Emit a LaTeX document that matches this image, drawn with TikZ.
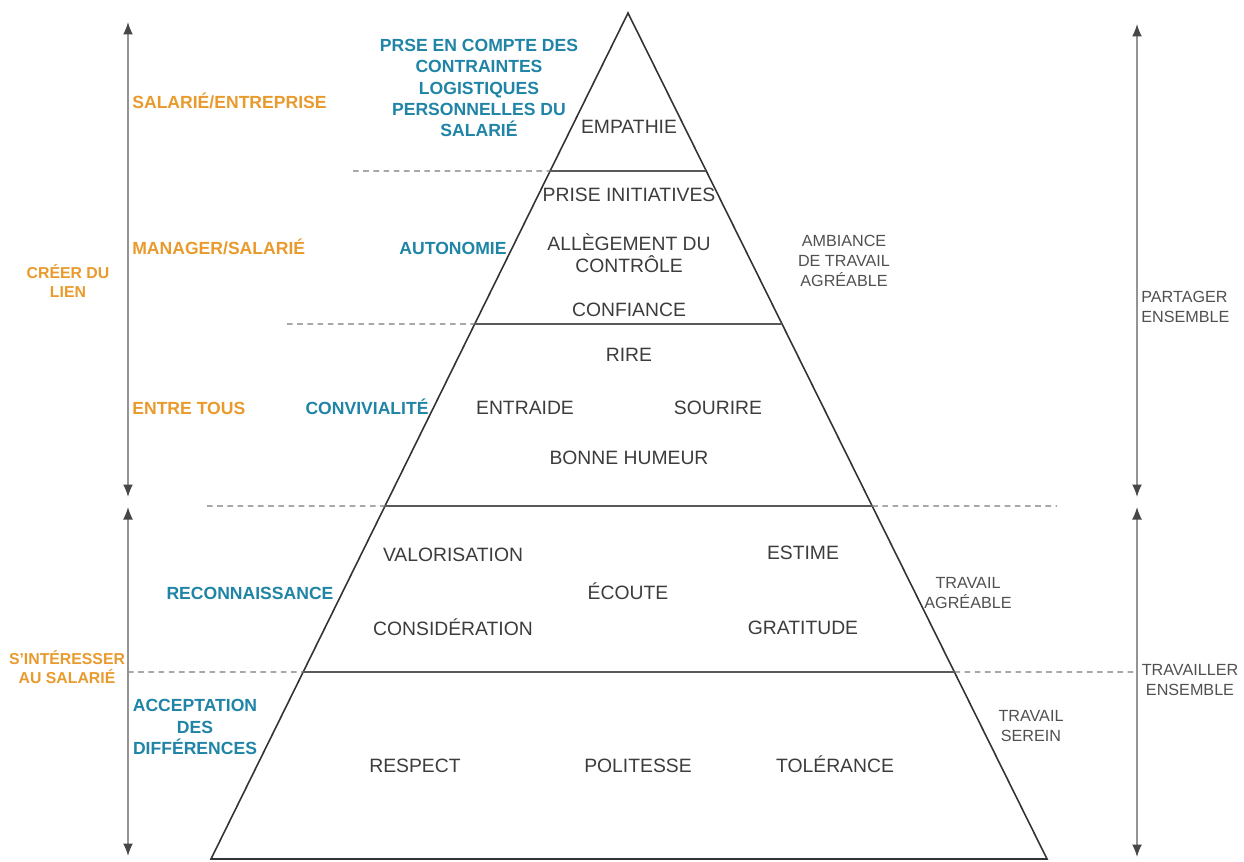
\documentclass[tikz,border=0pt]{standalone}
\usepackage{fontspec}
\setmainfont{Liberation Sans}
\usetikzlibrary{%
        arrows.meta,%
        calc%
    }
\definecolor{lienorange}{HTML}{E99A2C}
\definecolor{axeblue}{HTML}{1F84A6}
\definecolor{textgray}{HTML}{3C3C3C}
\definecolor{sidegray}{HTML}{505050}
\definecolor{linegray}{HTML}{7A7A7A}

\begin{document}
\begin{tikzpicture}[
        x=0.02cm, y=-0.02cm,
        pyramid/.style={draw=black!80, line width=0.9pt},
        tier/.style={draw=black!65, line width=0.9pt},
        guide/.style={draw=linegray, line width=0.7pt, dash pattern=on 3.2pt off 2.6pt},
        axis/.style={draw=black!42, line width=0.9pt,
            {Latex[length=2.5mm,width=2mm,color=black!72]}-{Latex[length=2.5mm,width=2mm,color=black!72]}},
        lien/.style={font={\fontsize{10}{12}\selectfont\bfseries}, text=lienorange, inner sep=0pt},
        liensmall/.style={font={\fontsize{9}{10.8}\selectfont\bfseries}, text=lienorange, align=center, inner sep=0pt},
        axe/.style={font={\fontsize{10}{12}\selectfont\bfseries}, text=axeblue, align=center, inner sep=0pt},
        values/.style={font={\fontsize{11}{12.6}\selectfont}, text=textgray, align=center, inner sep=0pt},
        value/.style={values, text height=0.72em, text depth=0pt},
        side/.style={font={\fontsize{9.2}{11.4}\selectfont}, text=sidegray, align=center, inner sep=0pt}
        ]

        % Frame
        \useasboundingbox (0,0) rectangle (1244,862);

        % Pyramid
        \coordinate (apex) at (628,13);
        \coordinate (baseL) at (211,859);
        \coordinate (baseR) at (1047,859);
        \draw[pyramid] (apex) -- (baseL) -- (baseR) -- cycle;

        % Tiers
        \foreach \t/\n in {0.1868/a, 0.3676/b, 0.5827/c, 0.7790/d}{
            \coordinate (\n L) at ($(apex)!\t!(baseL)$);
            \coordinate (\n R) at ($(apex)!\t!(baseR)$);
            \draw[tier] (\n L) -- (\n R);
        }

        % Dashed guides
        \coordinate (gA) at (353,171);
        \coordinate (gB) at (287,324);
        \coordinate (gC) at (207,506);
        \coordinate (gCr) at (1057,506);
        \coordinate (gD) at (128,672);
        \coordinate (gDr) at (1134,672);
        \draw[guide] (gA) -- (aL);
        \draw[guide] (gB) -- (bL);
        \draw[guide] (gC) -- (cL);
        \draw[guide] (cR) -- (gCr);
        \draw[guide] (gD) -- (dL);
        \draw[guide] (dR) -- (gDr);

        % Side arrows
        \coordinate (la1) at (128,22);
        \coordinate (la2) at (128,497);
        \coordinate (la3) at (128,507);
        \coordinate (la4) at (128,856);
        \coordinate (ra1) at (1137,24);
        \coordinate (ra2) at (1137,497);
        \coordinate (ra3) at (1137,507);
        \coordinate (ra4) at (1137,857);
        \draw[axis] (la1) -- (la2);
        \draw[axis] (la3) -- (la4);
        \draw[axis] (ra1) -- (ra2);
        \draw[axis] (ra3) -- (ra4);

        % Left labels
        \node[lien, anchor=west] (salent) at (132,101) {SALARIÉ/ENTREPRISE};
        \node[lien, anchor=west] (mansal) at (132,247) {MANAGER/SALARIÉ};
        \node[lien, anchor=west] (tous) at (132,408) {ENTRE TOUS};
        \node[liensmall] (creer) at (68,281) {CRÉER DU\\LIEN};
        \node[liensmall] (interet) at (67,667) {S'INTÉRESSER\\AU SALARIÉ};

        % Axes
        \node[axe] (contraintes) at (479,88) {PRSE EN COMPTE DES\\CONTRAINTES\\LOGISTIQUES\\PERSONNELLES DU\\SALARIÉ};
        \node[axe] (autonomie) at (453,248) {AUTONOMIE};
        \node[axe, text height=0.72em] (convivialite) at (367,408) {CONVIVIALITÉ};
        \node[axe] (reconnaissance) at (250,593) {RECONNAISSANCE};
        \node[axe] (acceptation) at (195,727) {ACCEPTATION\\DES\\DIFFÉRENCES};

        % Values
        \node[value] (empathie) at (629,127) {EMPATHIE};
        \node[value] (initiatives) at (629,195) {PRISE INITIATIVES};
        \node[values] (allegement) at (629,253) {ALLÈGEMENT DU\\CONTRÔLE};
        \node[value] (confiance) at (629,310) {CONFIANCE};
        \node[value] (rire) at (629,355) {RIRE};
        \node[value] (entraide) at (525,408) {ENTRAIDE};
        \node[value] (sourire) at (718,408) {SOURIRE};
        \node[value] (humeur) at (629,458) {BONNE HUMEUR};
        \node[value] (valorisation) at (453,555) {VALORISATION};
        \node[value] (estime) at (803,553) {ESTIME};
        \node[value] (ecoute) at (628,593) {ÉCOUTE};
        \node[value] (consideration) at (453,629) {CONSIDÉRATION};
        \node[value] (gratitude) at (803,628) {GRATITUDE};
        \node[value] (respect) at (415,766) {RESPECT};
        \node[value] (politesse) at (638,766) {POLITESSE};
        \node[value] (tolerance) at (835,766) {TOLÉRANCE};

        % Right labels
        \node[side] (ambiance) at (844,261) {AMBIANCE\\DE TRAVAIL\\AGRÉABLE};
        \node[side] (agreable) at (968,593) {TRAVAIL\\AGRÉABLE};
        \node[side] (serein) at (1031,726) {TRAVAIL\\SEREIN};
        \node[side, anchor=west, align=left] (partager) at (1141,307) {PARTAGER\\ENSEMBLE};
        \node[side] (travailler) at (1190,680) {TRAVAILLER\\ENSEMBLE};
    \end{tikzpicture}
\end{document}
